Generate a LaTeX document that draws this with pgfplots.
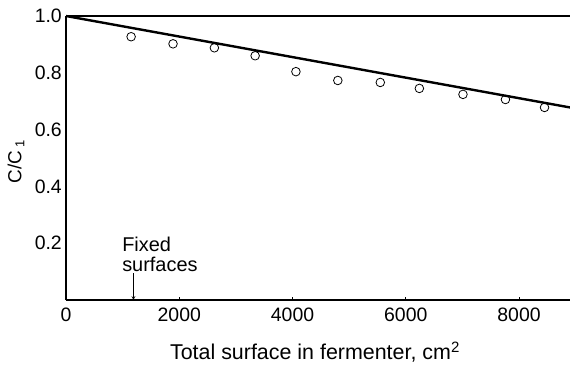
\documentclass[border=0pt]{standalone}
\usepackage{fontspec}
\setmainfont{Liberation Sans}
\usepackage{pgfplots}
\pgfplotsset{compat=1.18}
\usetikzlibrary{calc}
\begin{document}
\begin{tikzpicture}
\begin{axis}[
  scale only axis,
  width=504bp, height=284bp,
  xmin=0, xmax=8900, ymin=0, ymax=1.0,
  axis lines=left,
  axis line style={line width=1.5bp, -},
  xtick={0,2000,4000,6000,8000},
  ytick={0.2,0.4,0.6,0.8,1.0},
  yticklabels={0.2,0.4,0.6,0.8,1.0},
  x tick label style={/pgf/number format/1000 sep={}},
  /pgf/number format/assume math mode=true,
  tick align=inside,
  x tick style={black, line width=0.6bp},
  major tick length=3bp,
  y tick style={draw=none},
  tick label style={font=\fontsize{19.5}{19.5}\selectfont},
  xticklabel style={inner sep=0pt, anchor=north, yshift=-8bp},
  yticklabel style={inner sep=0pt, anchor=east, xshift=-4bp},
  xlabel={Total surface in fermenter, cm\textsuperscript{2}},
  xlabel style={font=\fontsize{21.5}{22}\selectfont, at={(axis description cs:0.494,-0.211)}, anchor=base, inner sep=0pt},
  ylabel={C/C\,\raisebox{-0.3ex}{\fontsize{13}{13}\selectfont 1}},
  ylabel style={font=\fontsize{19}{19}\selectfont, at={(axis description cs:-0.099,0.486)}, anchor=center},
  clip=false,
]
\addplot[black, line width=2.4bp] coordinates {(0,1.0) (8900,0.678)};
\addplot[only marks, mark=o, mark size=4.3bp, mark options={line width=0.8bp, fill=white}] coordinates {
(1150,0.927) (1890,0.902) (2620,0.888) (3340,0.860) (4060,0.804)
(4800,0.773) (5550,0.766) (6240,0.745) (7010,0.724) (7760,0.706) (8450,0.678)};
\draw[line width=1.5bp] (rel axis cs:0,1) -- (rel axis cs:1,1);
\node[font=\fontsize{20}{19.5}\selectfont, align=left, anchor=base west, inner sep=0pt] at (axis cs:990,0.101) {Fixed\\surfaces};
\draw[-stealth, line width=0.7bp] (axis cs:1190,0.094) -- (axis cs:1190,0.0);
\end{axis}
\pgfresetboundingbox
\path ($(current axis.south west)+(-66bp,-64bp)$) rectangle ($(current axis.north east)+(0bp,16bp)$);
\end{tikzpicture}
\end{document}
